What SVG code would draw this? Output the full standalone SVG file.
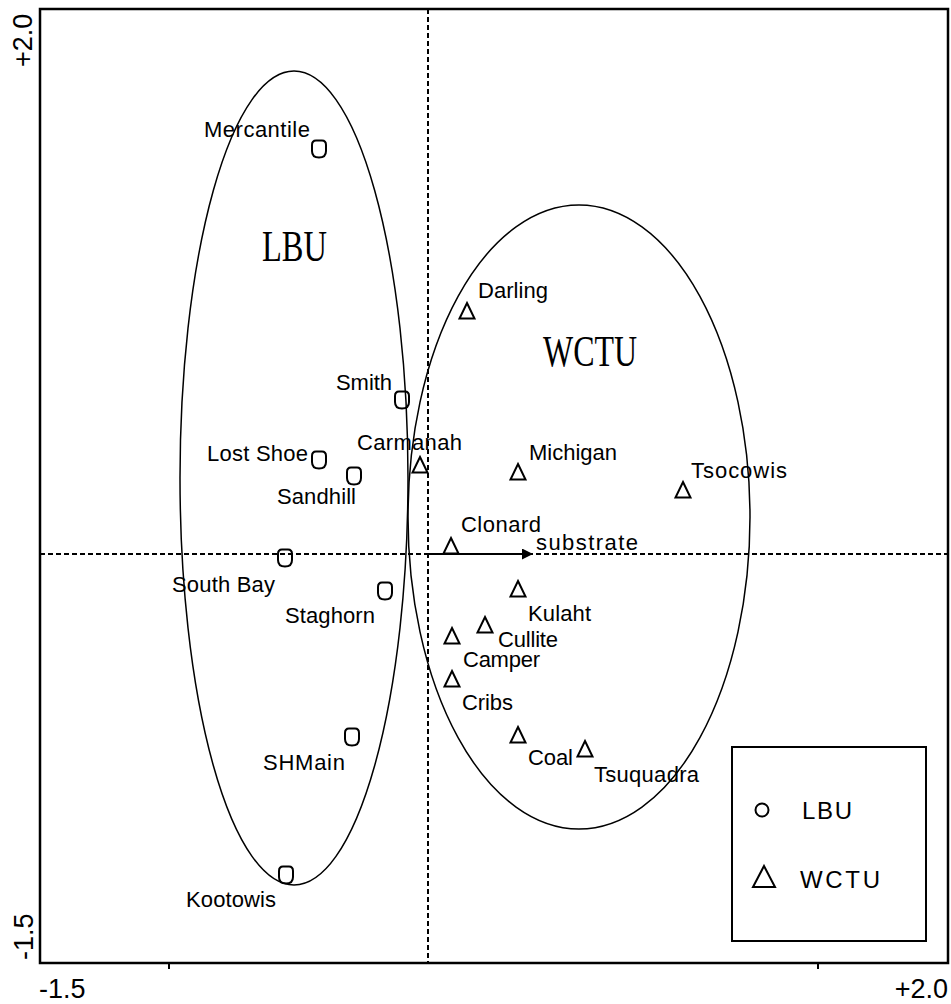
<svg xmlns="http://www.w3.org/2000/svg" width="951" height="1004" viewBox="0 0 951 1004">
<style>
.lbl{font-family:"Liberation Sans",Arial,sans-serif;font-size:22px;fill:#000}
.leg{font-family:"Liberation Sans",Arial,sans-serif;font-size:24px;fill:#000}
.ax{font-family:"Liberation Sans",Arial,sans-serif;font-size:27px;fill:#000}
.big{font-family:"Liberation Serif","Times New Roman",serif;font-size:44px;fill:#000}
.mk{fill:none;stroke:#000;stroke-width:2}
.dash{stroke:#000;stroke-width:2;stroke-dasharray:5 3;fill:none}
.ell{fill:none;stroke:#000;stroke-width:1.5}
</style>
<defs>
<path id="o" class="mk" d="M-7,-4 Q-7,-8.5 -3,-8.5 H3 Q7,-8.5 7,-4 V2 Q7,8.5 0,8.5 Q-7,8.5 -7,2 Z"/>
<path id="t" class="mk" d="M0,-8 L7.5,7.5 L-7.5,7.5 Z"/>
<marker id="ah" viewBox="0 0 10 10" refX="10" refY="5" markerWidth="11" markerHeight="11" markerUnits="userSpaceOnUse" orient="auto"><path d="M0,0 L10,5 L0,10 Z" fill="#000"/></marker>
</defs>
<rect width="951" height="1004" fill="#fff"/>
<g id="frame">
<rect x="40" y="9" width="908" height="954" fill="none" stroke="#000" stroke-width="2.5"/>
<line x1="169" y1="963" x2="169" y2="969" stroke="#000" stroke-width="2"/>
<line x1="818" y1="963" x2="818" y2="969" stroke="#000" stroke-width="2"/>
<text class="ax" x="39" y="998">-1.5</text>
<text class="ax" x="948" y="998" text-anchor="end">+2.0</text>
<text class="ax" transform="translate(32,67) rotate(-90)">+2.0</text>
<text class="ax" transform="translate(33,960) rotate(-90)">-1.5</text>
</g>
<g id="connectors">
<line class="dash" x1="428" y1="9" x2="428" y2="963"/>
<line class="dash" x1="40" y1="554" x2="948" y2="554"/>
<line x1="428" y1="554" x2="533" y2="554" stroke="#000" stroke-width="2" marker-end="url(#ah)"/>
</g>
<g id="ellipses">
<ellipse class="ell" cx="294" cy="478" rx="114" ry="407"/>
<ellipse class="ell" cx="579" cy="517" rx="171" ry="312"/>
<text class="big" x="262" y="261" textLength="65" lengthAdjust="spacingAndGlyphs">LBU</text>
<text class="big" x="543" y="366" textLength="94" lengthAdjust="spacingAndGlyphs">WCTU</text>
<text class="lbl" x="536" y="550" font-size="23" textLength="102">substrate</text>
</g>
<g id="lbu-nodes">
<g id="mercantile"><use href="#o" x="319" y="149"/><text class="lbl" x="204" y="137" textLength="106">Mercantile</text></g>
<g id="smith"><use href="#o" x="402" y="400"/><text class="lbl" x="336" y="390" textLength="56">Smith</text></g>
<g id="lostshoe"><use href="#o" x="319" y="460"/><text class="lbl" x="207" y="461" textLength="101">Lost Shoe</text></g>
<g id="sandhill"><use href="#o" x="354" y="476"/><text class="lbl" x="277" y="504" textLength="79">Sandhill</text></g>
<g id="southbay"><use href="#o" x="285" y="558"/><text class="lbl" x="172" y="592" textLength="103">South Bay</text></g>
<g id="staghorn"><use href="#o" x="385" y="591"/><text class="lbl" x="285" y="623" textLength="90">Staghorn</text></g>
<g id="shmain"><use href="#o" x="352" y="737"/><text class="lbl" x="263" y="770" textLength="82">SHMain</text></g>
<g id="kootowis"><use href="#o" x="286" y="875"/><text class="lbl" x="186" y="907" textLength="90">Kootowis</text></g>
</g>
<g id="wctu-nodes">
<g id="darling"><use href="#t" x="467" y="311"/><text class="lbl" x="478" y="298" textLength="70">Darling</text></g>
<g id="carmanah"><use href="#t" x="420" y="465"/><text class="lbl" x="357" y="450" textLength="105">Carmanah</text></g>
<g id="michigan"><use href="#t" x="518" y="472"/><text class="lbl" x="529" y="460" textLength="88">Michigan</text></g>
<g id="tsocowis"><use href="#t" x="683" y="490"/><text class="lbl" x="691" y="478" textLength="96">Tsocowis</text></g>
<g id="clonard"><use href="#t" x="451" y="546"/><text class="lbl" x="461" y="532" textLength="80">Clonard</text></g>
<g id="kulaht"><use href="#t" x="518" y="589"/><text class="lbl" x="528" y="621" textLength="63">Kulaht</text></g>
<g id="cullite"><use href="#t" x="485" y="625"/><text class="lbl" x="498" y="647" textLength="60">Cullite</text></g>
<g id="camper"><use href="#t" x="452" y="636"/><text class="lbl" x="463" y="667" textLength="77">Camper</text></g>
<g id="cribs"><use href="#t" x="452" y="679"/><text class="lbl" x="462" y="710" textLength="51">Cribs</text></g>
<g id="coal"><use href="#t" x="518" y="735"/><text class="lbl" x="528" y="765" textLength="45">Coal</text></g>
<g id="tsuquadra"><use href="#t" x="585" y="749"/><text class="lbl" x="594" y="782" textLength="105">Tsuquadra</text></g>
</g>
<g id="legend">
<rect x="732" y="747" width="194" height="194" fill="none" stroke="#000" stroke-width="2"/>
<circle cx="762" cy="810" r="6.5" class="mk"/>
<text class="leg" x="802" y="819" textLength="50">LBU</text>
<path class="mk" d="M764,866 L775,887 L753,887 Z"/>
<text class="leg" x="800" y="888" textLength="80">WCTU</text>
</g>
</svg>
